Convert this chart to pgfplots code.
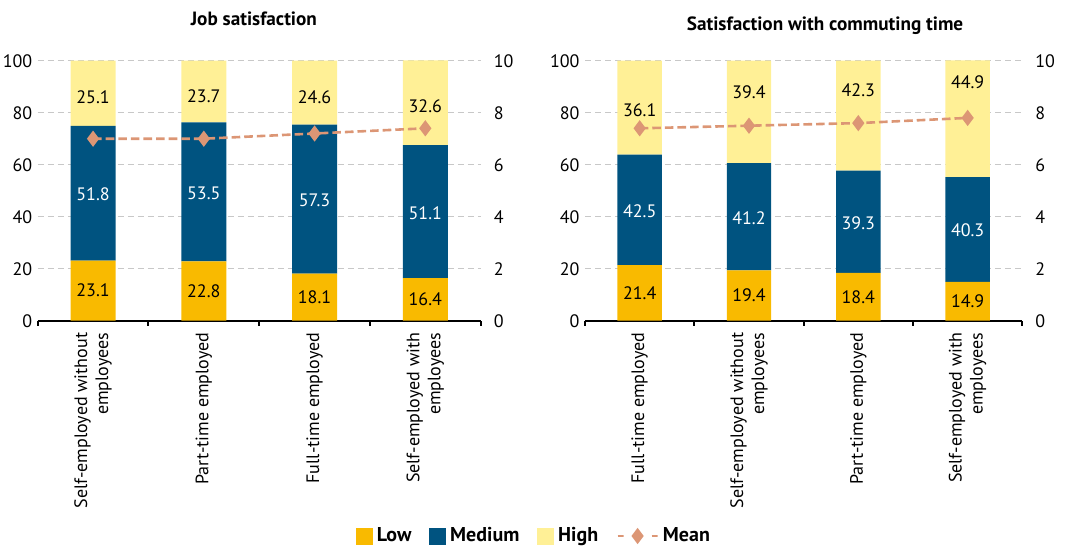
\documentclass[border=0pt]{standalone}
\usepackage{fontspec}
\setmainfont{PT Sans}
\usepackage{pgfplots}
\usepackage{pgfplotstable}
\pgfplotsset{compat=1.18}
\pgfplotsset{/pgf/number format/assume math mode=true}

\definecolor{lowc}{RGB}{249,186,0}
\definecolor{medc}{RGB}{0,83,128}
\definecolor{highc}{RGB}{255,240,150}
\definecolor{meanc}{RGB}{220,150,117}
\definecolor{gridc}{RGB}{200,200,200}

% values, label centres (on the 0-100 scale) and means
\pgfplotstableread{
c low medium high lowy medy highy mean
1 23.1 51.8 25.1 11.6 48.6 86.0 7.0
2 22.8 53.5 23.7 11.4 48.9 86.4 7.0
3 18.1 57.3 24.6 9.1 46.2 86.0 7.2
4 16.4 51.1 32.6 8.2 41.5 82.6 7.4
}\jobdata

\pgfplotstableread{
c low medium high lowy medy highy mean
1 21.4 42.5 36.1 10.7 42.1 81.0 7.4
2 19.4 41.2 39.4 9.7 39.4 88.0 7.5
3 18.4 39.3 42.3 9.2 37.5 88.7 7.6
4 14.9 40.3 44.9 7.5 34.8 91.8 7.8
}\comdata

\pgfplotsset{
  baraxis/.style={
    anchor=south west, scale only axis, height=130pt,
    xmin=0.5, xmax=4.5, ymin=0, ymax=100,
    ybar stacked, bar width=0.406,
    xtick={1,2,3,4}, minor xtick={0.5,1.5,2.5,3.5,4.5},
    major tick length=0pt, minor tick length=2.5pt, tick align=outside,
    major x tick style={draw=none}, minor x tick style={black, line width=1pt},
    ytick={0,20,...,100}, ytick style={draw=none},
    ymajorgrids, grid style={gridc, dash pattern=on 3pt off 2pt, line width=0.6pt},
    axis x line*=bottom, axis y line*=left,
    x axis line style={-, line width=1pt, black}, y axis line style={draw=none},
    xticklabel style={rotate=90, anchor=east, align=right},
    xticklabel shift=2.5pt,
    yticklabel style={xshift=0.8pt},
  },
  labaxis/.style={
    anchor=south west, scale only axis, height=130pt,
    xmin=0.5, xmax=4.5, ymin=0, ymax=100, hide axis, clip=false,
    point meta=explicit,
    nodes near coords={\pgfmathprintnumber[fixed,fixed zerofill,precision=1,assume math mode=true]{\pgfplotspointmeta}},
    every node near coord/.append style={anchor=center, inner sep=0pt},
  },
  labplot/.style={only marks, mark=*, mark size=0pt, mark options={draw=none, fill=none}},
  meanaxis/.style={
    anchor=south west, scale only axis, height=130pt,
    xmin=0.5, xmax=4.5, ymin=0, ymax=10,
    axis x line=none, axis y line*=right, y axis line style={draw=none},
    ytick={0,2,...,10}, ytick style={draw=none}, major tick length=0pt,
    yticklabel style={xshift=3pt}, clip=false,
  },
  meanplot/.style={meanc, line width=1.3pt, dash pattern=on 4.3pt off 2pt,
    mark=diamond*, mark size=3pt, mark options={solid, fill=meanc}},
}

\begin{document}
\begin{tikzpicture}[font=\fontsize{9}{10.5}\selectfont]
\useasboundingbox (0,0) rectangle (540.5pt,274pt);

% ---------- Left panel ----------
\begin{axis}[baraxis, at={(18.85pt,113.65pt)}, width=221.5pt,
  title={\fontsize{9.6}{11}\selectfont\bfseries Job satisfaction},
  title style={at={(0.488,1.114)}, anchor=center},
  xticklabels={{Self-employed without\\employees},{Part-time employed},{Full-time employed},{Self-employed with\\employees}},
  legend style={at={(1.1226,-0.828)}, anchor=center, draw=none, fill=none,
    legend columns=4, font=\fontsize{10}{12}\selectfont\bfseries,
    /tikz/every even column/.append style={column sep=7pt}},
]
\addplot[fill=lowc, draw=none, forget plot] table[x=c, y=low]{\jobdata};
\addplot[fill=medc, draw=none, forget plot] table[x=c, y=medium]{\jobdata};
\addplot[fill=highc, draw=none, forget plot] table[x=c, y=high]{\jobdata};
\addlegendimage{legend image code/.code={\fill[lowc] (0pt,-4pt) rectangle (8pt,4pt);}}
\addlegendentry{Low}
\addlegendimage{legend image code/.code={\fill[medc] (0pt,-4pt) rectangle (8pt,4pt);}}
\addlegendentry{Medium}
\addlegendimage{legend image code/.code={\fill[highc] (0pt,-4pt) rectangle (8pt,4pt);}}
\addlegendentry{High}
\addlegendimage{meanplot, line legend}
\addlegendentry{Mean}
\end{axis}
\begin{axis}[labaxis, at={(18.85pt,113.65pt)}, width=221.5pt]
\addplot[labplot] table[x=c, y=lowy, meta=low]{\jobdata};
\addplot[labplot, every node near coord/.append style={white}] table[x=c, y=medy, meta=medium]{\jobdata};
\addplot[labplot] table[x=c, y=highy, meta=high]{\jobdata};
\end{axis}
\begin{axis}[meanaxis, at={(18.85pt,113.65pt)}, width=221.5pt]
\addplot[meanplot] table[x=c, y=mean]{\jobdata};
\end{axis}

% ---------- Right panel ----------
\begin{axis}[baraxis, at={(292.5pt,113.65pt)}, width=218.65pt,
  title={\fontsize{9.6}{11}\selectfont\bfseries Satisfaction with commuting time},
  title style={at={(0.549,1.087)}, anchor=center},
  xticklabels={{Full-time employed},{Self-employed without\\employees},{Part-time employed},{Self-employed with\\employees}},
]
\addplot[fill=lowc, draw=none, forget plot] table[x=c, y=low]{\comdata};
\addplot[fill=medc, draw=none, forget plot] table[x=c, y=medium]{\comdata};
\addplot[fill=highc, draw=none, forget plot] table[x=c, y=high]{\comdata};
\end{axis}
\begin{axis}[labaxis, at={(292.5pt,113.65pt)}, width=218.65pt]
\addplot[labplot] table[x=c, y=lowy, meta=low]{\comdata};
\addplot[labplot, every node near coord/.append style={white}] table[x=c, y=medy, meta=medium]{\comdata};
\addplot[labplot] table[x=c, y=highy, meta=high]{\comdata};
\end{axis}
\begin{axis}[meanaxis, at={(292.5pt,113.65pt)}, width=218.65pt]
\addplot[meanplot] table[x=c, y=mean]{\comdata};
\end{axis}
\end{tikzpicture}
\end{document}
